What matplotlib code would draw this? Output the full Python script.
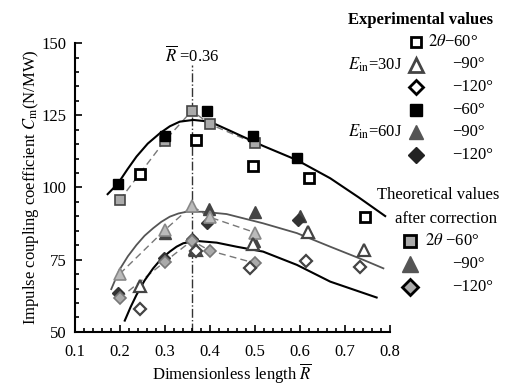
import matplotlib
matplotlib.use("Agg")
import matplotlib.pyplot as plt
from matplotlib.ticker import MultipleLocator

plt.rcParams['font.family'] = ['Liberation Serif', 'DejaVu Serif']
plt.rcParams['mathtext.fontset'] = 'stix'

# experimental, E_in = 30 J (open markers)
sq30_x = [0.245, 0.37, 0.495, 0.62, 0.745]
sq30_y = [104.7, 116.4, 107.4, 103.2, 89.9]
tri30_x = [0.245, 0.37, 0.495, 0.617, 0.741]
tri30_y = [65.9, 78.3, 80.3, 84.7, 78.4]
dia30_x = [0.245, 0.37, 0.49, 0.613, 0.733]
dia30_y = [58.0, 78.0, 72.0, 74.6, 72.6]

# experimental, E_in = 60 J (filled markers)
sq60_x = [0.196, 0.3, 0.394, 0.495, 0.594]
sq60_y = [101.2, 117.8, 126.6, 117.8, 110.1]
tri60_x = [0.3, 0.398, 0.5, 0.497, 0.6, 0.365]
tri60_y = [84.3, 92.5, 91.6, 81.6, 90.0, 78.8]
dia60_x = [0.196, 0.298, 0.393, 0.596, 0.36]
dia60_y = [63.4, 75.5, 87.8, 88.8, 82.0]

# theoretical values after correction
th_x = [0.2, 0.3, 0.36, 0.4, 0.5]
th60_y = [95.7, 116.2, 126.6, 121.9, 115.3]
th90_y = [70.1, 85.3, 93.6, 89.7, 84.4]
th120_y = [61.7, 74.3, 81.6, 78.1, 73.8]

# fitted curves
fit60_x = [0.173, 0.196, 0.217, 0.237, 0.262, 0.289, 0.311, 0.333, 0.363, 0.4, 0.444, 0.518, 0.593, 0.667, 0.73, 0.789]
fit60_y = [97.7, 101.4, 106.3, 110.7, 115.2, 118.8, 121.2, 122.8, 123.4, 122.8, 119.7, 114.4, 109.5, 103.2, 96.6, 90.1]
fit90_x = [0.181, 0.2, 0.218, 0.237, 0.255, 0.274, 0.292, 0.311, 0.33, 0.348, 0.385, 0.437, 0.518, 0.593, 0.667, 0.741, 0.785]
fit90_y = [64.8, 71.7, 76.2, 80.1, 83.3, 85.9, 88.1, 89.9, 91.0, 91.6, 91.6, 90.8, 87.6, 84.2, 79.5, 74.9, 72.0]
fit120_x = [0.211, 0.224, 0.237, 0.255, 0.274, 0.292, 0.311, 0.326, 0.341, 0.37, 0.415, 0.459, 0.518, 0.593, 0.667, 0.77]
fit120_y = [53.9, 58.6, 62.8, 67.8, 72.0, 75.3, 77.8, 79.5, 80.7, 81.5, 80.9, 79.5, 77.8, 73.2, 67.4, 61.9]

R_opt = 0.36

fig = plt.figure(figsize=(5.12, 3.85), dpi=100)
ax = fig.add_axes([0.146, 0.138, 0.616, 0.75])

gray_line = '#777777'
ax.plot(th_x, th60_y, ls=(0, (5, 3)), color=gray_line, lw=1.0, zorder=2)
ax.plot(th_x, th90_y, ls=(0, (5, 3)), color=gray_line, lw=1.0, zorder=2)
ax.plot(th_x, th120_y, ls=(0, (5, 3)), color=gray_line, lw=1.0, zorder=2)
ax.plot(fit60_x, fit60_y, color='black', lw=1.5, zorder=2)
ax.plot(fit90_x, fit90_y, color='#555555', lw=1.3, zorder=2)
ax.plot(fit120_x, fit120_y, color='black', lw=1.5, zorder=2)

ax.axvline(R_opt, ymax=0.925, color='#333333', lw=1.0, ls='-.', zorder=1)
ax.text(R_opt, 145.5, r'$\overline{R}$ =0.36', ha='center', va='center', fontsize=12)

ms = 7
ax.plot(th_x, th60_y, 's', ms=ms, mfc='#aaaaaa', mec='#444444', mew=1.2, ls='none', zorder=3)
ax.plot(th_x, th90_y, '^', ms=ms + 1, mfc='#bbbbbb', mec='#888888', mew=1.2, ls='none', zorder=3)
ax.plot(th_x, th120_y, 'D', ms=ms - 1, mfc='#aaaaaa', mec='#777777', mew=1.2, ls='none', zorder=3)

ax.plot(sq60_x, sq60_y, 's', ms=ms, mfc='black', mec='black', ls='none', zorder=4)
ax.plot(tri60_x, tri60_y, '^', ms=ms + 1, mfc='#444444', mec='#444444', ls='none', zorder=2.5)
ax.plot(dia60_x, dia60_y, 'D', ms=ms - 1, mfc='#333333', mec='#333333', ls='none', zorder=2.5)

ax.plot(sq30_x, sq30_y, 's', ms=ms, mfc='white', mec='black', mew=2, ls='none', zorder=4)
ax.plot(tri30_x, tri30_y, '^', ms=ms + 1, mfc='white', mec='#444444', mew=1.6, ls='none', zorder=4)
ax.plot(dia30_x, dia30_y, 'D', ms=ms - 1, mfc='white', mec='#444444', mew=1.6, ls='none', zorder=4)

ax.set_xlim(0.1, 0.8)
ax.set_ylim(50, 150)
ax.xaxis.set_major_locator(MultipleLocator(0.1))
ax.xaxis.set_minor_locator(MultipleLocator(0.02))
ax.yaxis.set_major_locator(MultipleLocator(25))
ax.yaxis.set_minor_locator(MultipleLocator(5))
ax.tick_params(which='both', direction='in', labelsize=12, width=1.2)
ax.tick_params(which='major', length=5)
ax.tick_params(which='minor', length=3)
ax.tick_params(axis='x', which='major', pad=9)
ax.tick_params(axis='y', which='major', pad=6)
for s in ['top', 'right']:
    ax.spines[s].set_visible(False)
for s in ['left', 'bottom']:
    ax.spines[s].set_linewidth(1.5)
ax.set_xticklabels(['%.1f' % v for v in ax.get_xticks()])

ax.set_xlabel(r'Dimensionless length $\overline{R}$', fontsize=12)
ax.xaxis.set_label_coords(0.5, -0.105)
ax.set_ylabel(r'Impulse coupling coefficient $C_{\rm m}$(N/MW)', fontsize=12, labelpad=0)

# legend drawn as text + markers in figure coords
def fx(px):
    return px / 512

def fy(py):
    return 1 - py / 385

fig.text(fx(420), fy(20), 'Experimental values', ha='center', va='center', fontsize=12, fontweight='bold')
leg_mx = 416
rows = [42, 64.5, 87, 110, 132, 155]
fig.lines.append(plt.Line2D([fx(leg_mx)], [fy(rows[0])], marker='s', ms=ms, mfc='white', mec='black', mew=2, transform=fig.transFigure))
fig.lines.append(plt.Line2D([fx(leg_mx)], [fy(rows[1])], marker='^', ms=ms + 3, mfc='white', mec='#444444', mew=2, transform=fig.transFigure))
fig.lines.append(plt.Line2D([fx(leg_mx)], [fy(rows[2])], marker='D', ms=ms, mfc='white', mec='black', mew=2, transform=fig.transFigure))
fig.lines.append(plt.Line2D([fx(leg_mx)], [fy(rows[3])], marker='s', ms=ms + 1, mfc='black', mec='black', transform=fig.transFigure))
fig.lines.append(plt.Line2D([fx(leg_mx)], [fy(rows[4])], marker='^', ms=ms + 3, mfc='#555555', mec='#555555', transform=fig.transFigure))
fig.lines.append(plt.Line2D([fx(leg_mx)], [fy(rows[5])], marker='D', ms=ms + 1, mfc='#222222', mec='#222222', transform=fig.transFigure))
fig.text(fx(428), fy(rows[0]), r'$2\theta$−60°', ha='left', va='center', fontsize=12)
fig.text(fx(452), fy(rows[1]), '−90°', ha='left', va='center', fontsize=12)
fig.text(fx(452), fy(rows[2]), '−120°', ha='left', va='center', fontsize=12)
fig.text(fx(452), fy(rows[3]), '−60°', ha='left', va='center', fontsize=12)
fig.text(fx(452), fy(rows[4]), '−90°', ha='left', va='center', fontsize=12)
fig.text(fx(452), fy(rows[5]), '−120°', ha='left', va='center', fontsize=12)
fig.text(fx(402), fy(rows[1]), r'$E_{\rm in}$=30J', ha='right', va='center', fontsize=12)
fig.text(fx(402), fy(rows[4]), r'$E_{\rm in}$=60J', ha='right', va='center', fontsize=12)

fig.text(fx(438), fy(195), 'Theoretical values', ha='center', va='center', fontsize=12)
fig.text(fx(446), fy(219), 'after correction', ha='center', va='center', fontsize=12)
trows = [241, 264, 287]
tmx = 410
fig.lines.append(plt.Line2D([fx(tmx)], [fy(trows[0])], marker='s', ms=ms + 1, mfc='#aaaaaa', mec='black', mew=2, transform=fig.transFigure))
fig.lines.append(plt.Line2D([fx(tmx)], [fy(trows[1])], marker='^', ms=ms + 5, mfc='#555555', mec='#555555', transform=fig.transFigure))
fig.lines.append(plt.Line2D([fx(tmx)], [fy(trows[2])], marker='D', ms=ms + 1, mfc='#aaaaaa', mec='black', mew=2, transform=fig.transFigure))
fig.text(fx(425), fy(trows[0]), r'$2\theta$ −60°', ha='left', va='center', fontsize=12)
fig.text(fx(452), fy(trows[1]), '−90°', ha='left', va='center', fontsize=12)
fig.text(fx(452), fy(trows[2]), '−120°', ha='left', va='center', fontsize=12)

fig.savefig('out.png', dpi=100)
